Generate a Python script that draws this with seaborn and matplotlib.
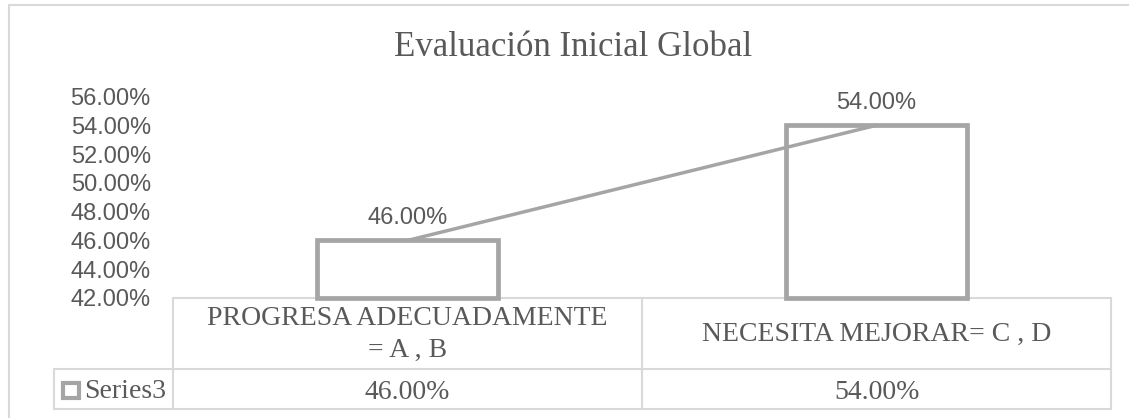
import textwrap
import numpy as np
import seaborn as sns
import matplotlib.pyplot as plt
from matplotlib.lines import Line2D
from matplotlib.patches import Rectangle

# Chart data
categories = ["PROGRESA ADECUADAMENTE = A , B", "NECESITA MEJORAR= C , D"]
values = [0.46, 0.54]
series_name = "Series3"
title = "Evaluación Inicial Global"
y_ticks = [0.42, 0.44, 0.46, 0.48, 0.50, 0.52, 0.54, 0.56]

# Styling
W, H = 1129, 418
bar_col = '#A5A5A5'
grid_col = '#D9D9D9'
text_col = '#595959'
serif = 'Liberation Serif'
sans = 'Liberation Sans'

sns.set_theme(style='white')
plt.rcParams['font.family'] = [sans, 'DejaVu Sans']

fig = plt.figure(figsize=(W / 100, H / 100), dpi=100)

# Plot area in pixel coordinates (from top-left)
left, right, top, bottom = 173, 1111, 96.5, 298
ax = fig.add_axes([left / W, 1 - bottom / H, (right - left) / W, (bottom - top) / H])

sns.barplot(x=categories, y=values, ax=ax, width=0.386, fill=False,
            color=bar_col, linewidth=3.4, zorder=3)
# Bars start at the axis minimum, like the original chart
for p, v in zip(ax.patches, values):
    p.set_y(y_ticks[0])
    p.set_height(v - y_ticks[0])
    p.set_clip_on(False)

sns.lineplot(x=np.arange(len(values)), y=values, ax=ax, color=bar_col,
             linewidth=2.5, zorder=4)

for i, v in enumerate(values):
    ax.annotate(f"{v * 100:.2f}%", (i, v), xytext=(0, 11.5), textcoords='offset points',
                ha='center', va='baseline', fontsize=17, color=text_col, family=[sans])

ax.set_ylim(y_ticks[0], y_ticks[-1])
ax.set_xlim(-0.5, len(values) - 0.5)
ax.set_yticks(y_ticks)
ax.set_yticklabels([f"{t * 100:.2f}%" for t in y_ticks], fontsize=17, color=text_col)
ax.tick_params(axis='y', length=0, pad=16)
ax.set_xticks([])
ax.set_xlabel('')
ax.set_ylabel('')
for s in ax.spines.values():
    s.set_visible(False)
ax.patch.set_alpha(0)

# Overlay in pixel coordinates for title, data table and border
ov = fig.add_axes([0, 0, 1, 1], zorder=-1)
ov.set_xlim(0, W)
ov.set_ylim(H, 0)
ov.axis('off')

def hline(y, x0, x1):
    ov.add_line(Line2D([x0, x1], [y, y], color=grid_col, linewidth=1.5))

def vline(x, y0, y1):
    ov.add_line(Line2D([x, x], [y0, y1], color=grid_col, linewidth=1.5))

# Outer chart border
hline(5, 9, W + 5)
vline(9, 5, H + 5)

ov.text(573, 56, title, ha='center', va='baseline', fontsize=25,
        color=text_col, family=[serif])

# Data table
row0, row1, row2 = 298, 369, 409
legend_x0 = 54
col_edges = [left, (left + right) / 2, right]
hline(row0, left, right)
hline(row1, legend_x0, right)
hline(row2, legend_x0, right)
vline(legend_x0, row1, row2)
for x in col_edges:
    vline(x, row0, row2)

for i, (cat, v) in enumerate(zip(categories, values)):
    cx = (col_edges[i] + col_edges[i + 1]) / 2
    ov.text(cx, (row0 + row1) / 2 + 1, textwrap.fill(cat, 23), ha='center', va='center',
            fontsize=20, color=text_col, family=[serif], linespacing=1.33)
    ov.text(cx, 399, f"{v * 100:.2f}%", ha='center', va='baseline',
            fontsize=20, color=text_col, family=[serif])

ov.add_patch(Rectangle((62.5, 382.5), 16, 15, facecolor='white', edgecolor=bar_col, linewidth=3))
ov.text(84, 398, series_name, ha='left', va='baseline', fontsize=20,
        color=text_col, family=[serif])

fig.savefig('out.png', dpi=100)
